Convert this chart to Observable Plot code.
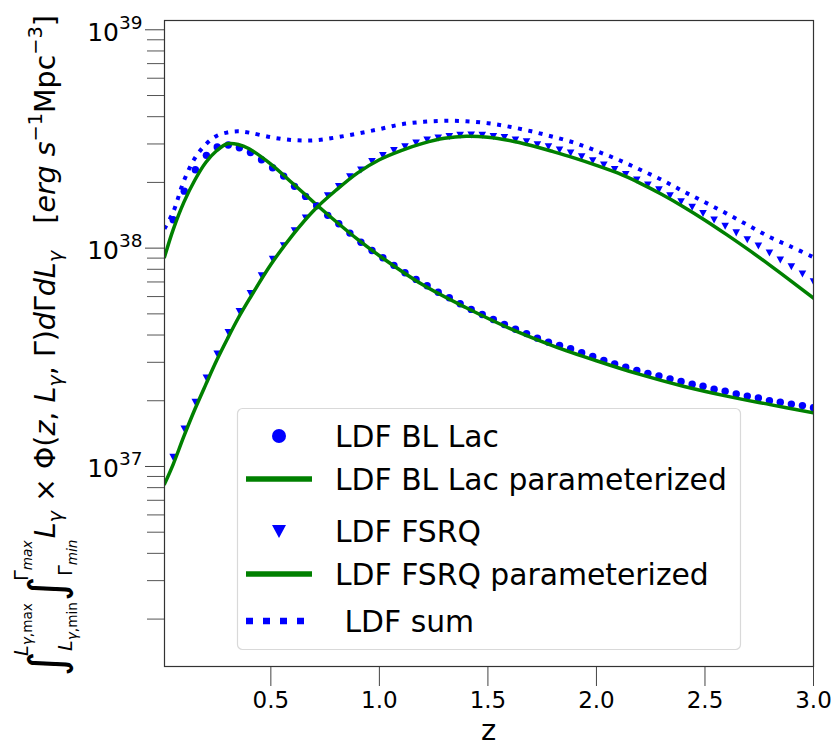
<!DOCTYPE html>
<html>
<head>
<meta charset="utf-8">
<script src="https://cdn.jsdelivr.net/npm/d3@7"></script>
<script src="https://cdn.jsdelivr.net/npm/@observablehq/plot@0.6"></script>
<style>
  body { margin: 0; background: #fff; }
  svg { font-family: "DejaVu Sans", sans-serif; }
</style>
</head>
<body>
<div id="chart"></div>
<script>
// ---------- data ----------
// redshift grid of the markers
const zPts = [0.050,0.101,0.152,0.203,0.253,0.304,0.355,0.406,0.457,0.508,
  0.559,0.609,0.660,0.711,0.762,0.813,0.864,0.915,0.966,1.016,
  1.067,1.118,1.169,1.220,1.271,1.322,1.372,1.423,1.474,1.525,
  1.576,1.627,1.678,1.728,1.779,1.830,1.881,1.932,1.983,2.034,
  2.084,2.135,2.186,2.237,2.288,2.339,2.390,2.441,2.491,2.542,
  2.593,2.644,2.695,2.746,2.797,2.847,2.898,2.949,3.000];
// LDF BL Lac (circles)
const blLac = [1.349e38,1.824e38,2.286e38,2.661e38,2.904e38,2.965e38,2.884e38,2.742e38,2.541e38,2.333e38,
  2.138e38,1.919e38,1.726e38,1.563e38,1.413e38,1.294e38,1.172e38,1.064e38,9.75e37,9.04e37,
  8.34e37,7.71e37,7.19e37,6.73e37,6.28e37,5.93e37,5.56e37,5.24e37,4.97e37,4.71e37,
  4.47e37,4.25e37,4.06e37,3.87e37,3.71e37,3.58e37,3.46e37,3.32e37,3.19e37,3.06e37,
  2.95e37,2.85e37,2.75e37,2.67e37,2.60e37,2.52e37,2.45e37,2.38e37,2.33e37,2.26e37,
  2.21e37,2.15e37,2.10e37,2.06e37,2.00e37,1.97e37,1.93e37,1.90e37,1.86e37];
// LDF FSRQ (triangles)
const fsrq = [1.104e37,1.489e37,1.972e37,2.547e37,3.281e37,4.121e37,5.14e37,6.22e37,7.50e37,8.93e37,
  1.028e38,1.205e38,1.377e38,1.556e38,1.742e38,1.919e38,2.128e38,2.286e38,2.500e38,2.661e38,
  2.805e38,2.924e38,3.041e38,3.141e38,3.206e38,3.258e38,3.296e38,3.304e38,3.296e38,3.258e38,
  3.221e38,3.141e38,3.083e38,2.985e38,2.924e38,2.825e38,2.735e38,2.630e38,2.523e38,2.410e38,
  2.296e38,2.178e38,2.056e38,1.950e38,1.854e38,1.742e38,1.637e38,1.542e38,1.445e38,1.349e38,
  1.262e38,1.178e38,1.096e38,1.026e38,9.53e37,8.85e37,8.24e37,7.64e37,7.03e37];
// LDF BL Lac parameterized (green line)
const zParamBL = [0.01,0.05,0.10,0.15,0.20,0.25,0.30,0.35,0.40,0.50,0.60,0.70,0.80,0.90,1.00,
  1.20,1.40,1.60,1.80,2.00,2.20,2.40,2.60,2.80,3.00];
const blLacParam = [9.10e37,1.216e38,1.629e38,2.051e38,2.466e38,2.793e38,3.006e38,2.985e38,2.851e38,2.427e38,
  1.982e38,1.614e38,1.324e38,1.096e38,9.23e37,6.79e37,5.33e37,4.29e37,3.57e37,3.05e37,
  2.64e37,2.33e37,2.10e37,1.92e37,1.76e37];
// fine grid for FSRQ parameterized and sum
const zFine = [0.01,0.05,0.10,0.15,0.20,0.25,0.30,0.35,0.40,0.50,0.60,0.70,0.80,0.90,1.00,
  1.10,1.20,1.30,1.40,1.50,1.60,1.70,1.80,1.90,2.00,2.10,2.20,2.30,2.40,2.50,
  2.60,2.70,2.80,2.90,3.00];
const fsrqParam = [8.30e36,1.023e37,1.380e37,1.828e37,2.371e37,3.055e37,3.846e37,4.786e37,5.821e37,8.41e37,
  1.148e38,1.496e38,1.841e38,2.213e38,2.541e38,2.799e38,3.020e38,3.184e38,3.251e38,3.221e38,
  3.112e38,2.951e38,2.767e38,2.582e38,2.393e38,2.203e38,1.986e38,1.766e38,1.549e38,1.343e38,
  1.153e38,9.84e37,8.34e37,7.03e37,5.90e37];
// LDF sum (dotted)
const ldfSum = [1.227e38,1.462e38,2.042e38,2.582e38,2.985e38,3.266e38,3.388e38,3.428e38,3.381e38,3.221e38,
  3.126e38,3.119e38,3.214e38,3.350e38,3.508e38,3.690e38,3.784e38,3.828e38,3.811e38,3.733e38,
  3.597e38,3.428e38,3.236e38,3.034e38,2.786e38,2.541e38,2.291e38,2.056e38,1.820e38,1.622e38,
  1.439e38,1.271e38,1.122e38,1.012e38,9.08e37];

const xTicks = [0.5, 1.0, 1.5, 2.0, 2.5, 3.0];
const yMajor = [1e37, 1e38, 1e39];
const yMinor = [2e36,3e36,4e36,5e36,6e36,7e36,8e36,9e36,
  2e37,3e37,4e37,5e37,6e37,7e37,8e37,9e37,
  2e38,3e38,4e38,5e38,6e38,7e38,8e38,9e38];
const legendLabels = ["LDF BL Lac", "LDF BL Lac parameterized", "LDF FSRQ", "LDF FSRQ parameterized", " LDF sum"];
const xLabel = "z";

// ---------- tables ----------
const ptsBL = zPts.map((z, i) => ({z, v: blLac[i]}));
const ptsFS = zPts.map((z, i) => ({z, v: fsrq[i]}));
const lineBL = zParamBL.map((z, i) => ({z, v: blLacParam[i]}));
const lineFS = zFine.map((z, i) => ({z, v: fsrqParam[i]}));
const lineSum = zFine.map((z, i) => ({z, v: ldfSum[i]}));

const BLUE = "#0000ff", GREEN = "#008000";
const triangleDown = {
  draw(ctx, size) {
    const a = Math.sqrt(size / Math.PI);
    ctx.moveTo(-a, -0.85 * a);
    ctx.lineTo(a, -0.85 * a);
    ctx.lineTo(0, a);
    ctx.closePath();
  }
};

const svg = Plot.plot({
  width: 837,
  height: 748,
  marginLeft: 164,
  marginRight: 24,
  marginTop: 20,
  marginBottom: 82,
  style: {fontFamily: "DejaVu Sans", fontSize: "23px", color: "#000", background: "#fff"},
  x: {domain: [0.01, 3.0], label: null},
  y: {type: "log", domain: [1.213e36, 1.103e39], label: null},
  marks: [
    Plot.dot(ptsBL, {x: "z", y: "v", r: 3.7, fill: BLUE, stroke: "none", clip: true}),
    Plot.line(lineBL, {x: "z", y: "v", stroke: GREEN, strokeWidth: 3.5, curve: "catmull-rom", clip: true}),
    Plot.dot(ptsFS, {x: "z", y: "v", r: 3.8, symbol: triangleDown, fill: BLUE, stroke: "none", clip: true}),
    Plot.line(lineFS, {x: "z", y: "v", stroke: GREEN, strokeWidth: 3.5, curve: "catmull-rom", clip: true}),
    Plot.line(lineSum, {x: "z", y: "v", stroke: BLUE, strokeWidth: 4, strokeDasharray: "4,6.6",
      strokeLinecap: "butt", curve: "catmull-rom", clip: true}),
    Plot.axisX(xTicks, {tickSize: 20, tickPadding: 5, tickFormat: d => d.toFixed(1), fontSize: 23,
      stroke: "#444", label: null}),
    Plot.axisY(yMinor, {tickSize: 17, tickFormat: () => "", stroke: "#555", label: null}),
    Plot.axisY(yMajor, {tickSize: 19, tickPadding: 3, fontSize: 23, stroke: "#444",
      tickFormat: d => "10^" + Math.round(Math.log10(d)), label: null}),
    Plot.frame({stroke: "#333", strokeWidth: 1.2})
  ]
});
document.getElementById("chart").append(svg);

const S = d3.select(svg);

// tick label sizes
S.selectAll('g[aria-label="x-axis tick label"] text').attr("font-size", "23px");
// superscript exponents of y tick labels
S.selectAll("text").each(function () {
  const m = /^10\^(\d+)$/.exec(this.textContent);
  if (!m) return;
  const t = d3.select(this);
  t.text(null).attr("font-size", "25px");
  t.append("tspan").attr("dy", 3).text("10");
  t.append("tspan").attr("dy", -12).attr("font-size", "18.5px").text(m[1]);
});

// x label
S.append("text").attr("x", 488.5).attr("y", 740).attr("text-anchor", "middle")
  .attr("font-size", 29).attr("fill", "#000").text(xLabel);

// y label (math expression)
(function () {
  const g = S.append("g").attr("fill", "#000").attr("text-anchor", "start");
  const put = (s, px, py, size, italic) => {
    const t = g.append("text").attr("x", px).attr("y", py).attr("font-size", size)
      .attr("text-anchor", "start")
      .attr("font-style", italic ? "italic" : "normal").style("white-space", "pre").text(s);
    return t.node().getComputedTextLength();
  };
  const run = (parts, px) => {
    let cx = px;
    for (const [s, size, dy, it] of parts) cx += put(s, cx, dy, size, it);
    return cx;
  };
  const M = 25, SC = 17, SS = 12;
  let x = 0;
  // first integral with limits
  let w = put("\u222B", x, 7, 42, false);
  let e1 = run([["L", SC, -24, true], ["\u03B3", SS, -20, true], [",max", SS, -20, false]], x + w * 0.8);
  let e2 = run([["L", SC, 15, true], ["\u03B3", SS, 19, true], [",min", SS, 19, false]], x + w * 1.0);
  x = Math.max(e1, e2) + 1;
  // second integral
  w = put("\u222B", x, 7, 42, false);
  e1 = run([["\u0393", SC, -24, false], ["max", SS, -20, true]], x + w * 0.8);
  e2 = run([["\u0393", SC, 15, false], ["min", SS, 19, true]], x + w * 1.0);
  x = Math.max(e1, e2) + 1;
  // integrand
  x = run([["L", M, 0, true], ["\u03B3", SC, 6, true], [" \u00D7 ", M, 0, false],
    ["\u03A6(", M, 0, false], ["z", M, 0, true], [", ", M, 0, false], ["L", M, 0, true], ["\u03B3", SC, 6, true],
    [", \u0393)", M, 0, false], ["d", M, 0, true], ["\u0393", M, 0, false], ["d", M, 0, true], ["L", M, 0, true],
    ["\u03B3", SC, 6, true]], x);
  // units
  x = run([["   [", M, 0, false], ["erg", M, 0, true], [" ", M, 0, false], ["s", M, 0, true],
    ["\u22121", SC, -11, false], ["Mpc", M, 0, false], ["\u22123", SC, -11, false], ["]", M, 0, false]], x);
  const total = x;
  const k = 661 / total;
  g.attr("transform", `translate(55,676) rotate(-90) scale(${k})`);
})();

// legend
(function () {
  const lg = S.append("g").attr("text-anchor", "start");
  lg.append("rect").attr("x", 237.5).attr("y", 408.5).attr("width", 503).attr("height", 241)
    .attr("rx", 5).attr("fill", "#fff").attr("fill-opacity", 0.8).attr("stroke", "#d9d9d9").attr("stroke-width", 1.2);
  const rowsY = [436, 479, 531, 574, 621];
  const kinds = ["circle", "line", "triangle", "line", "dotted"];
  legendLabels.forEach((lab, i) => {
    const y = rowsY[i], cx = 279;
    if (kinds[i] === "circle") lg.append("circle").attr("cx", cx).attr("cy", y).attr("r", 7).attr("fill", BLUE);
    if (kinds[i] === "triangle") lg.append("path")
      .attr("d", `M${cx - 7},${y - 6}L${cx + 7},${y - 6}L${cx},${y + 7}Z`).attr("fill", BLUE);
    if (kinds[i] === "line") lg.append("line").attr("x1", 246).attr("x2", 312).attr("y1", y).attr("y2", y)
      .attr("stroke", GREEN).attr("stroke-width", 5.5);
    if (kinds[i] === "dotted") lg.append("line").attr("x1", 246).attr("x2", 312).attr("y1", y).attr("y2", y)
      .attr("stroke", BLUE).attr("stroke-width", 6.5).attr("stroke-dasharray", "7,10");
    lg.append("text").attr("x", 335).attr("y", y + 10.5).attr("font-size", 29.8).attr("fill", "#000")
      .attr("text-anchor", "start").style("white-space", "pre").text(lab);
  });
})();
</script>
</body>
</html>
